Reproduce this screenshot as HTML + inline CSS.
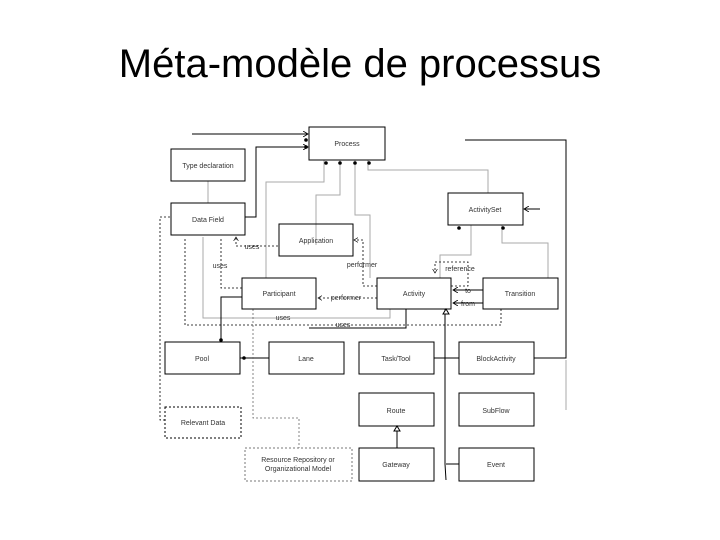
<!DOCTYPE html>
<html><head><meta charset="utf-8"><style>
body{margin:0;background:#fff;width:720px;height:540px;overflow:hidden;font-family:"Liberation Sans",sans-serif}
h1{position:absolute;top:42px;left:0;width:720px;text-align:center;font-weight:normal;font-size:40px;margin:0;color:#000}
svg{position:absolute;left:0;top:0}
</style></head><body>
<h1>Méta-modèle de processus</h1>
<svg width="720" height="540" font-family="Liberation Sans, sans-serif" font-size="7" text-anchor="middle">
<defs>
<marker id="a" markerWidth="6" markerHeight="6" refX="5" refY="3" orient="auto"><path d="M0,0L5,3L0,6" fill="none" stroke="#000" stroke-width="0.8"/></marker>
<marker id="d" markerWidth="6" markerHeight="6" refX="3" refY="3" orient="auto"><circle cx="3" cy="3" r="2" fill="#000"/></marker>
</defs>
<g fill="none" stroke="#000" stroke-width="1">
<!-- gray lines -->
<g stroke="#aaa">
<line x1="208" y1="203" x2="208" y2="181"/>
<polyline points="266,278 266,182 324,182 324,160"/>
<polyline points="316,245 316,195 340,195 340,160"/>
<polyline points="370,278 370,215 355,215 355,160"/>
<polyline points="488,193 488,170 368,170 368,160"/>
<polyline points="548,278 548,243 502,243 502,225"/>
<polyline points="440,278 440,255 471,255 471,225"/>
<line x1="566" y1="360" x2="566" y2="410"/>
<polyline points="390,309 390,318 203,318 203,237"/>
</g>
<line x1="192" y1="134" x2="308" y2="134" marker-end="url(#a)"/>
<polyline points="245,217 256,217 256,147 308,147" marker-end="url(#a)"/>
<polyline points="465,140 566,140 566,358 534,358"/>
<line x1="540" y1="209" x2="524" y2="209" marker-end="url(#a)"/>
<polyline points="242,297 221,297 221,342"/>
<polyline points="406,309 406,328 309,328"/>
<line x1="434" y1="358" x2="459" y2="358"/>
<polyline points="446,480 445,464 445,309"/>
<line x1="446" y1="464" x2="459" y2="464"/>
<line x1="397" y1="448" x2="397" y2="426"/>
<line x1="240" y1="358" x2="269" y2="358"/>
<!-- dashed -->
<g stroke-dasharray="2,2" stroke-width="0.8">
<line x1="160" y1="217" x2="171" y2="217"/>
<polyline points="278,246 236,246 236,237" marker-end="url(#a)"/>
<polyline points="242,288 221,288 221,237"/>
<polyline points="377,286 363,286 363,240 354,240" marker-end="url(#a)"/>
<line x1="377" y1="298" x2="318" y2="298" marker-end="url(#a)"/>
<polyline points="451,286 468,286 468,262 435,262 435,273" marker-end="url(#a)"/>
<polyline points="501,309 501,325 185,325 185,237"/>
<polyline points="253,309 253,418 299,418 299,448" stroke="#666"/>
<polyline points="165,420 160,420 160,217"/>
</g>
<line x1="483" y1="290" x2="453" y2="290" marker-end="url(#a)"/>
<line x1="483" y1="303" x2="453" y2="303" marker-end="url(#a)"/>
<!-- diamonds/dots -->
<g fill="#000" stroke="none">
<circle cx="306" cy="140" r="1.8"/><circle cx="306" cy="147" r="1.8"/>
<circle cx="326" cy="163" r="1.8"/><circle cx="340" cy="163" r="1.8"/><circle cx="355" cy="163" r="1.8"/><circle cx="369" cy="163" r="1.8"/>
<circle cx="459" cy="228" r="1.8"/><circle cx="503" cy="228" r="1.8"/>
<circle cx="221" cy="340" r="1.8"/><circle cx="244" cy="358" r="1.8"/>
</g>
<path d="M443,314 L446,309 L449,314 Z" fill="#fff"/>
<path d="M394,431 L397,426 L400,431 Z" fill="#fff"/>
<!-- boxes -->
<rect x="309" y="127" width="76" height="33"/>
<rect x="171" y="149" width="74" height="32"/>
<rect x="171" y="203" width="74" height="32"/>
<rect x="279" y="224" width="74" height="32"/>
<rect x="448" y="193" width="75" height="32"/>
<rect x="242" y="278" width="74" height="31"/>
<rect x="377" y="278" width="74" height="31"/>
<rect x="483" y="278" width="75" height="31"/>
<rect x="165" y="342" width="75" height="32"/>
<rect x="269" y="342" width="75" height="32"/>
<rect x="359" y="342" width="75" height="32"/>
<rect x="459" y="342" width="75" height="32"/>
<rect x="359" y="393" width="75" height="33"/>
<rect x="459" y="393" width="75" height="33"/>
<rect x="359" y="448" width="75" height="33"/>
<rect x="459" y="448" width="75" height="33"/>
<rect x="165" y="407" width="76" height="31" stroke-dasharray="2,2"/>
<rect x="245" y="448" width="107" height="33" stroke="#777" stroke-dasharray="2,2"/>
</g>
<g fill="#333">
<text x="347" y="146">Process</text>
<text x="208" y="168">Type declaration</text>
<text x="208" y="222">Data Field</text>
<text x="316" y="243">Application</text>
<text x="485" y="212">ActivitySet</text>
<text x="279" y="296">Participant</text>
<text x="414" y="296">Activity</text>
<text x="520" y="296">Transition</text>
<text x="202" y="361">Pool</text>
<text x="306" y="361">Lane</text>
<text x="396" y="361">Task/Tool</text>
<text x="496" y="361">BlockActivity</text>
<text x="396" y="413">Route</text>
<text x="496" y="413">SubFlow</text>
<text x="396" y="467">Gateway</text>
<text x="496" y="467">Event</text>
<text x="203" y="425">Relevant Data</text>
<text x="298" y="462">Resource Repository or</text>
<text x="298" y="471">Organizational Model</text>
<text x="252" y="249">uses</text>
<text x="220" y="268">uses</text>
<text x="362" y="267">performer</text>
<text x="346" y="300">performer</text>
<text x="460" y="271">reference</text>
<text x="468" y="293">to</text>
<text x="468" y="306">from</text>
<text x="283" y="320">uses</text>
<text x="343" y="327">uses</text>
</g>
</svg>
</body></html>
